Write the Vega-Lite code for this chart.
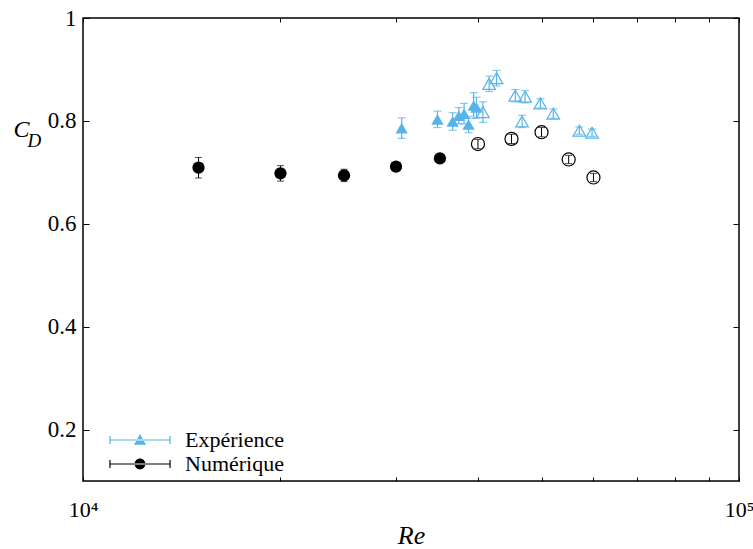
{
  "$schema": "https://vega.github.io/schema/vega-lite/v6.json",
  "width": 656,
  "height": 463,
  "autosize": "none",
  "padding": {"left": 83, "top": 18, "right": 14, "bottom": 68},
  "background": "white",
  "config": {
    "font": "Liberation Serif",
    "view": {"stroke": "black", "strokeWidth": 1.5},
    "axis": {"grid": false, "domain": false, "tickColor": "black", "tickWidth": 1, "labelColor": "black", "titleColor": "black", "labelFont": "Liberation Serif", "titleFont": "Liberation Serif", "labelFontSize": 23},
    "legend": {"labelFont": "Liberation Serif"}
  },
  "data": {
    "values": [
      {"series": "Expérience", "kind": "filled", "Re": 30600, "CD": 0.786, "err": 0.02},
      {"series": "Expérience", "kind": "filled", "Re": 34700, "CD": 0.803, "err": 0.016},
      {"series": "Expérience", "kind": "filled", "Re": 36600, "CD": 0.799, "err": 0.017},
      {"series": "Expérience", "kind": "filled", "Re": 37400, "CD": 0.810, "err": 0.016},
      {"series": "Expérience", "kind": "filled", "Re": 38100, "CD": 0.814, "err": 0.02},
      {"series": "Expérience", "kind": "filled", "Re": 38700, "CD": 0.793, "err": 0.016},
      {"series": "Expérience", "kind": "filled", "Re": 39400, "CD": 0.830, "err": 0.025},
      {"series": "Expérience", "kind": "filled", "Re": 39800, "CD": 0.826, "err": 0.02},
      {"series": "Expérience", "kind": "open", "Re": 40700, "CD": 0.817, "err": 0.02},
      {"series": "Expérience", "kind": "open", "Re": 41600, "CD": 0.872, "err": 0.015},
      {"series": "Expérience", "kind": "open", "Re": 42700, "CD": 0.883, "err": 0.015},
      {"series": "Expérience", "kind": "open", "Re": 45600, "CD": 0.849, "err": 0.012},
      {"series": "Expérience", "kind": "open", "Re": 47200, "CD": 0.847, "err": 0.012},
      {"series": "Expérience", "kind": "open", "Re": 46700, "CD": 0.799, "err": 0.012},
      {"series": "Expérience", "kind": "open", "Re": 49800, "CD": 0.834, "err": 0.009},
      {"series": "Expérience", "kind": "open", "Re": 52100, "CD": 0.814, "err": 0.009},
      {"series": "Expérience", "kind": "open", "Re": 57100, "CD": 0.781, "err": 0.007},
      {"series": "Expérience", "kind": "open", "Re": 59700, "CD": 0.777, "err": 0.007},
      {"series": "Numérique", "kind": "filled", "Re": 15000, "CD": 0.709, "err": 0.02},
      {"series": "Numérique", "kind": "filled", "Re": 20000, "CD": 0.698, "err": 0.015},
      {"series": "Numérique", "kind": "filled", "Re": 25000, "CD": 0.694, "err": 0.012},
      {"series": "Numérique", "kind": "filled", "Re": 30000, "CD": 0.711, "err": 0.006},
      {"series": "Numérique", "kind": "filled", "Re": 35000, "CD": 0.727, "err": 0.006},
      {"series": "Numérique", "kind": "open", "Re": 40000, "CD": 0.755, "err": 0.009},
      {"series": "Numérique", "kind": "open", "Re": 45000, "CD": 0.765, "err": 0.009},
      {"series": "Numérique", "kind": "open", "Re": 50000, "CD": 0.778, "err": 0.009},
      {"series": "Numérique", "kind": "open", "Re": 55000, "CD": 0.725, "err": 0.008},
      {"series": "Numérique", "kind": "open", "Re": 60000, "CD": 0.690, "err": 0.008}
    ]
  },
  "resolve": {"axis": {"x": "independent", "y": "independent"}},
  "layer": [
    {
      "transform": [{"filter": "datum.series === 'Expérience'"}],
      "mark": {"type": "errorbar", "color": "#56b4e9", "thickness": 1.2, "ticks": {"size": 8, "thickness": 1.2, "color": "#56b4e9"}},
      "encoding": {
        "x": {"field": "Re", "type": "quantitative", "scale": {"type": "log", "domain": [10000, 100000], "nice": false}, "axis": null},
        "y": {"field": "CD", "type": "quantitative", "scale": {"domain": [0.1, 1], "nice": false, "zero": false}, "axis": null},
        "yError": {"field": "err"}
      }
    },
    {
      "transform": [{"filter": "datum.series === 'Numérique'"}],
      "mark": {"type": "errorbar", "color": "black", "thickness": 1, "ticks": {"size": 7, "thickness": 1, "color": "black"}},
      "encoding": {
        "x": {"field": "Re", "type": "quantitative", "axis": null},
        "y": {"field": "CD", "type": "quantitative", "axis": null},
        "yError": {"field": "err"}
      }
    },
    {
      "transform": [{"filter": "datum.series === 'Numérique' && datum.kind === 'filled'"}],
      "mark": {"type": "point", "shape": "circle", "filled": true, "size": 150, "color": "black", "opacity": 1},
      "encoding": {
        "x": {"field": "Re", "type": "quantitative", "axis": {"orient": "bottom", "values": [10000, 20000, 30000, 40000, 50000, 60000, 70000, 80000, 90000, 100000], "labelExpr": "datum.value == 10000 ? '10⁴' : (datum.value == 100000 ? '10⁵' : '')", "tickSize": -4, "labelPadding": 39, "labelBaseline": "alphabetic", "labelFlush": false, "labelFont": "Liberation Serif", "labelFontSize": 22, "title": "Re", "titleFont": "Liberation Serif", "titleFontStyle": "italic", "titleFontWeight": "normal", "titleFontSize": 26, "titleY": 62, "titleBaseline": "alphabetic"}},
        "y": {"field": "CD", "type": "quantitative", "axis": {"orient": "left", "values": [0.2, 0.4, 0.6, 0.8, 1], "format": "~g", "tickSize": -6, "labelPadding": 13, "labelFont": "Liberation Serif", "labelFontSize": 23, "title": "C", "titleFont": "Liberation Serif", "titleAngle": 0, "titleX": -70, "titleY": 118, "titleAlign": "left", "titleBaseline": "alphabetic", "titleFontStyle": "italic", "titleFontWeight": "normal", "titleFontSize": 24}}
      }
    },
    {
      "transform": [{"filter": "datum.series === 'Numérique' && datum.kind === 'open'"}],
      "mark": {"type": "point", "shape": "circle", "filled": false, "size": 170, "color": "black", "strokeWidth": 1.2, "opacity": 1},
      "encoding": {
        "x": {"field": "Re", "type": "quantitative", "axis": {"orient": "top", "values": [10000, 20000, 30000, 40000, 50000, 60000, 70000, 80000, 90000, 100000], "labels": false, "tickSize": -4, "title": "D", "titleFont": "Liberation Serif", "titleX": -56, "titleY": 128, "titleAlign": "left", "titleBaseline": "alphabetic", "titleAngle": 0, "titleFontStyle": "italic", "titleFontWeight": "normal", "titleFontSize": 19}},
        "y": {"field": "CD", "type": "quantitative", "axis": {"orient": "right", "values": [0.2, 0.4, 0.6, 0.8, 1], "labels": false, "tickSize": -6, "title": null}}
      }
    },
    {
      "transform": [{"filter": "datum.series === 'Expérience' && datum.kind === 'filled'"}],
      "mark": {"type": "point", "shape": "triangle-up", "filled": true, "size": 150, "color": "#56b4e9", "opacity": 1},
      "encoding": {
        "x": {"field": "Re", "type": "quantitative", "axis": null},
        "y": {"field": "CD", "type": "quantitative", "axis": null}
      }
    },
    {
      "transform": [{"filter": "datum.series === 'Expérience' && datum.kind === 'open'"}],
      "mark": {"type": "point", "shape": "triangle-up", "filled": false, "size": 160, "color": "#56b4e9", "strokeWidth": 1.2, "opacity": 1},
      "encoding": {
        "x": {"field": "Re", "type": "quantitative", "axis": null},
        "y": {"field": "CD", "type": "quantitative", "axis": null}
      }
    },
    {
      "transform": [{"filter": "false"}],
      "mark": {"type": "point", "filled": true, "opacity": 1},
      "encoding": {
        "x": {"field": "Re", "type": "quantitative", "axis": null},
        "y": {"field": "CD", "type": "quantitative", "axis": null},
        "color": {
          "field": "series", "type": "nominal",
          "scale": {"domain": ["Expérience", "Numérique"], "range": ["#56b4e9", "black"]},
          "legend": {"title": null, "orient": "none", "legendX": 26, "legendY": 410, "symbolSize": 3600, "symbolOpacity": 1, "clipHeight": 24, "labelFontSize": 22, "labelFont": "Liberation Serif", "labelColor": "black", "labelOffset": 14, "rowPadding": 0}
        },
        "shape": {
          "field": "series", "type": "nominal",
          "scale": {"domain": ["Expérience", "Numérique"], "range": [
            "M -1 -0.02 L 1 -0.02 L 1 0.02 L -1 0.02 Z M -1.02 -0.13 L -0.98 -0.13 L -0.98 0.13 L -1.02 0.13 Z M 0.98 -0.13 L 1.02 -0.13 L 1.02 0.13 L 0.98 0.13 Z M -0.2 0.16 L 0.2 0.16 L 0 -0.2 Z",
            "M -1 -0.02 L 1 -0.02 L 1 0.02 L -1 0.02 Z M -1.02 -0.13 L -0.98 -0.13 L -0.98 0.13 L -1.02 0.13 Z M 0.98 -0.13 L 1.02 -0.13 L 1.02 0.13 L 0.98 0.13 Z M -0.18 0 A 0.18 0.18 0 1 0 0.18 0 A 0.18 0.18 0 1 0 -0.18 0 Z"
          ]},
          "legend": {"title": null, "orient": "none", "legendX": 26, "legendY": 410, "symbolSize": 3600, "symbolOpacity": 1, "clipHeight": 24, "labelFontSize": 22, "labelFont": "Liberation Serif", "labelColor": "black", "labelOffset": 14, "rowPadding": 0}
        }
      }
    }
  ]
}
